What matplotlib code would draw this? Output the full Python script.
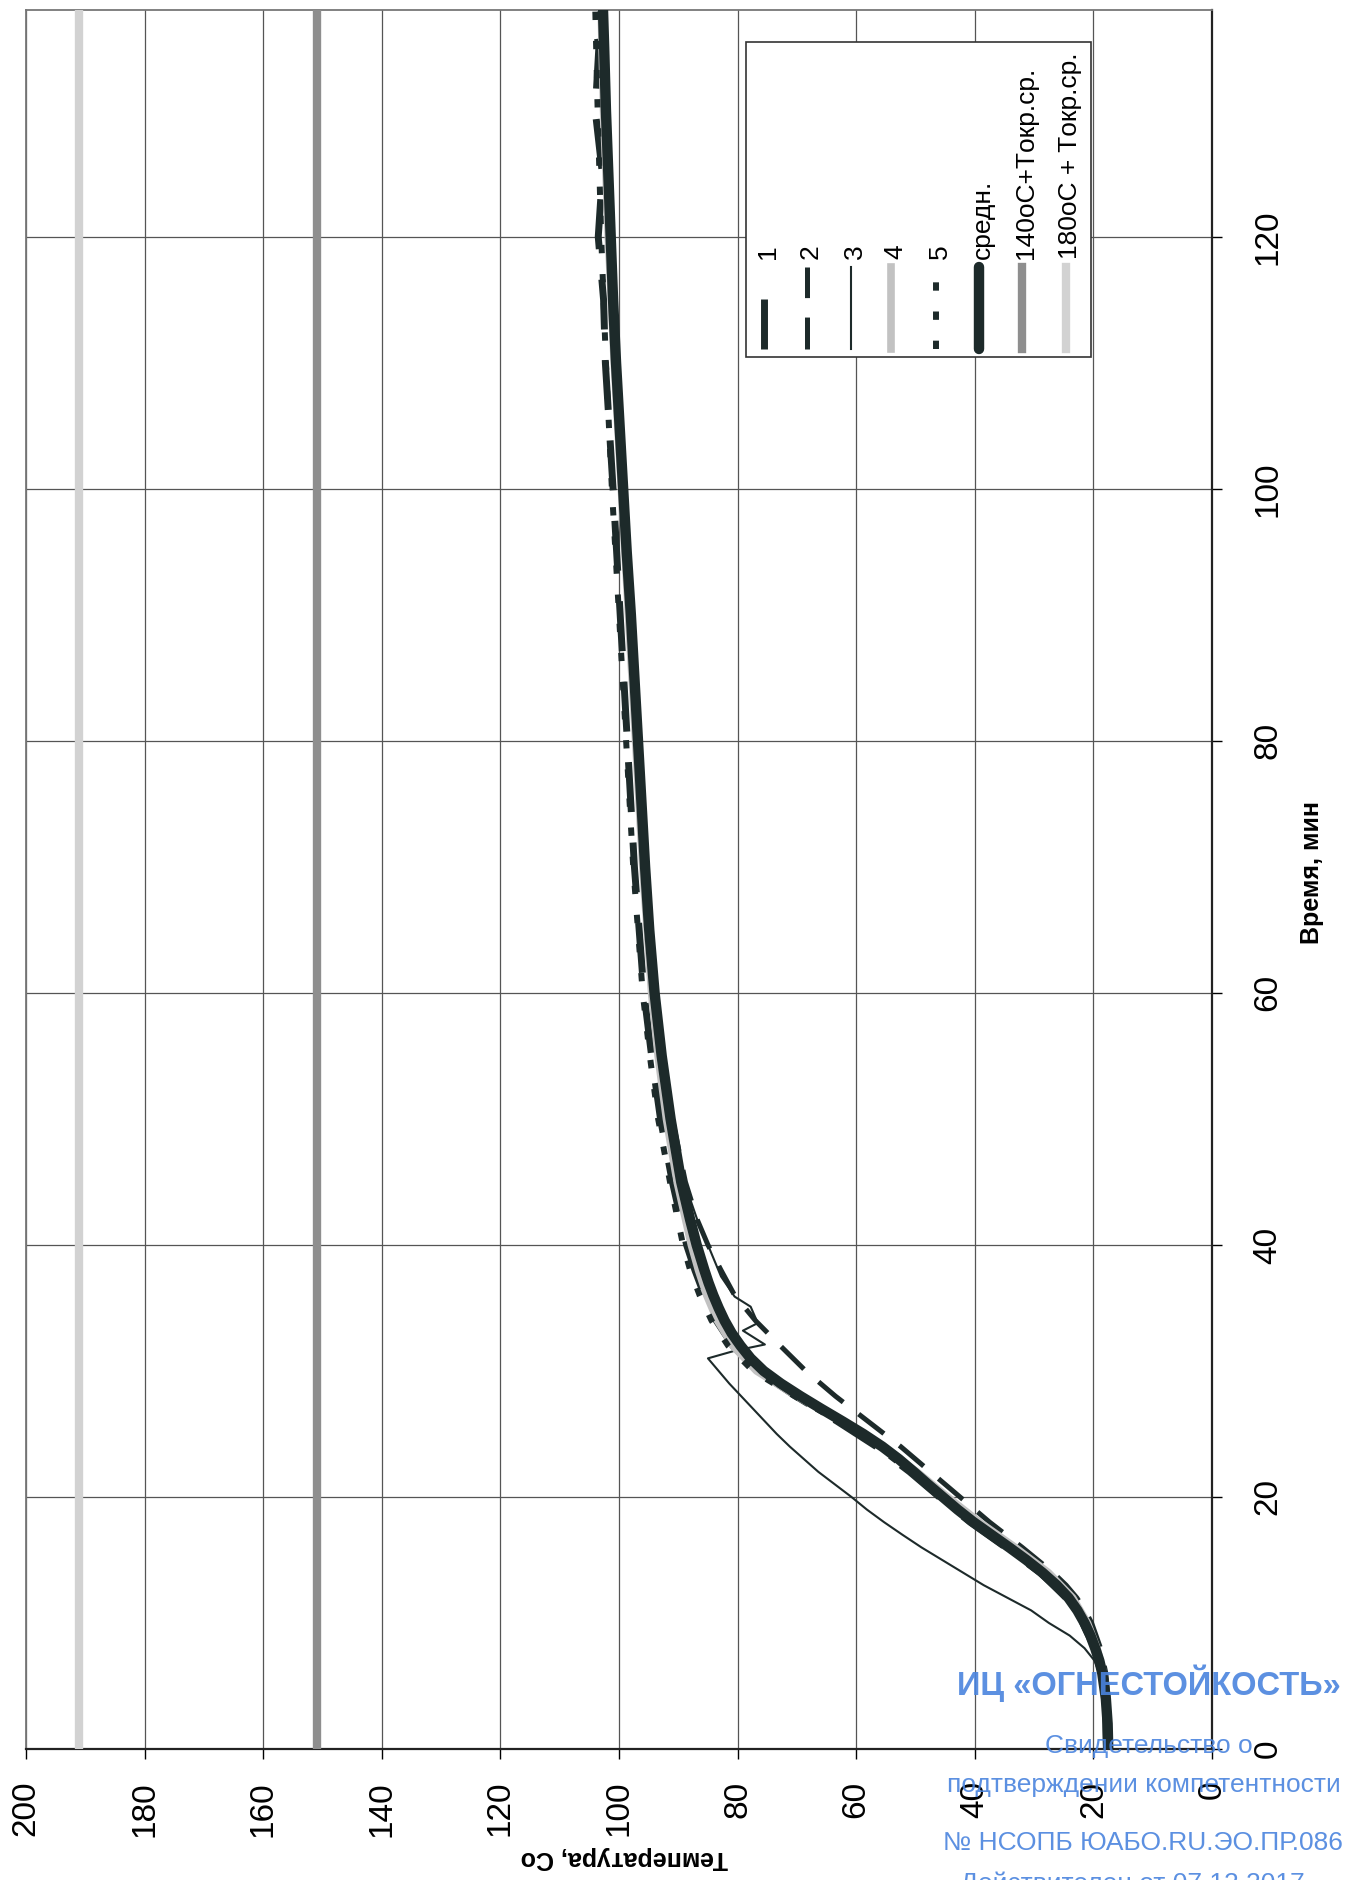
import matplotlib
matplotlib.use('Agg')
import matplotlib.pyplot as plt
from matplotlib import font_manager
from matplotlib.patches import Rectangle

plt.rcParams['font.family'] = ['Liberation Sans', 'DejaVu Sans']
plt.rcParams['lines.scale_dashes'] = False

# ---------------- data ----------------
temp_ticks = [0, 20, 40, 60, 80, 100, 120, 140, 160, 180, 200]
time_ticks = [0, 20, 40, 60, 80, 100, 120]

time_avg = [0, 2, 4, 6, 7, 8, 9, 10, 11, 12, 13, 14, 15, 16, 17, 18, 19, 20, 21, 22, 23, 24,
            25, 26, 27, 28, 29, 30, 31, 32, 33, 34, 35, 36, 37, 38, 40, 42, 45, 50, 55, 60,
            65, 70, 75, 80, 85, 90, 95, 100, 105, 110, 115, 120, 125, 130, 135, 138]
temp_avg = [17.5, 17.6, 17.9, 18.5, 19.0, 19.7, 20.5, 21.5, 22.7, 24.2, 26.2, 28.6, 31.3, 34.2,
            37.2, 40.2, 42.9, 45.4, 47.9, 50.3, 52.8, 55.6, 58.8, 62.3, 65.9, 69.4, 72.7, 75.6,
            77.8, 79.5, 81.0, 82.2, 83.2, 84.1, 84.9, 85.6, 86.9, 88.0, 89.5, 91.3, 92.8, 94.0,
            94.9, 95.6, 96.2, 96.8, 97.4, 98.0, 98.7, 99.3, 99.9, 100.5, 101.0, 101.4, 101.8,
            102.2, 102.5, 102.7]

time_1 = [0, 4, 6, 8, 10, 12, 14, 16, 18, 20, 22, 24, 26, 28, 30, 32, 34, 36, 38, 40, 45,
          50, 55, 60, 70, 80, 90, 100, 110, 115, 120, 125, 130, 135, 138]
temp_1 = [17.8, 18.0, 18.6, 19.8, 21.8, 24.6, 29.0, 34.8, 40.8, 46.0, 51.0, 56.6, 63.2, 70.2,
          76.6, 80.8, 83.6, 85.6, 87.2, 88.6, 91.0, 93.0, 94.5, 95.8, 97.4, 98.6, 99.8, 101.0,
          102.3, 102.6, 103.5, 102.8, 104.0, 103.4, 104.3]

time_2 = [0, 4, 6, 8, 10, 11, 12, 13, 14, 16, 18, 20, 22, 24, 26, 28, 30, 32, 34, 36, 38, 40,
          42, 45, 50, 55, 60, 70, 80, 90, 100, 110, 120, 130, 138]
temp_2 = [17.4, 17.5, 17.9, 18.8, 20.3, 21.4, 22.8, 24.6, 26.8, 32.0, 37.5, 42.5, 47.5, 52.5,
          58.0, 63.5, 68.5, 72.8, 77.0, 80.5, 82.8, 85.0, 86.8, 88.8, 91.0, 92.6, 93.8, 95.5,
          96.6, 97.8, 99.0, 100.3, 101.3, 102.1, 102.6]

time_3 = [0, 4, 6, 7, 8, 9, 10, 11, 12, 13, 14, 15, 16, 17, 18, 19, 20, 21, 22, 23, 24, 25,
          26, 27, 28, 29, 30, 31, 31.6, 32.1, 33.2, 33.8, 35.1, 35.9, 37.5, 40, 42, 45, 50,
          55, 60, 70, 80, 90, 100, 110, 120, 130, 138]
temp_3 = [17.8, 18.2, 19.0, 19.8, 21.5, 24.0, 27.5, 30.5, 34.5, 38.5, 42.0, 45.5, 49.0, 52.2,
          55.3, 58.2, 60.8, 63.6, 66.4, 68.8, 71.2, 73.4, 75.4, 77.4, 79.4, 81.4, 83.2, 85.0,
          80.5, 75.4, 79.1, 76.6, 77.8, 80.5, 82.8, 85.0, 86.8, 89.0, 91.2, 92.8, 94.0, 95.6,
          96.9, 98.0, 99.3, 100.5, 101.5, 102.2, 102.7]

time_4 = [0, 4, 6, 8, 10, 12, 14, 16, 18, 20, 22, 24, 26, 28, 30, 32, 34, 36, 38, 40, 45,
          50, 55, 60, 70, 80, 90, 100, 110, 120, 130, 138]
temp_4 = [17.6, 17.8, 18.3, 19.4, 21.0, 23.5, 27.6, 33.2, 39.2, 44.6, 49.8, 55.6, 62.4, 70.0,
          76.8, 80.8, 83.4, 85.2, 86.6, 87.8, 90.2, 92.0, 93.4, 94.5, 96.0, 97.2, 98.4, 99.6,
          100.8, 101.8, 102.6, 103.0]

time_5 = [0, 4, 6, 8, 10, 12, 14, 16, 18, 20, 22, 24, 26, 28, 30, 32, 34, 36, 38, 40, 45,
          50, 55, 60, 70, 80, 90, 100, 110, 120, 130, 138]
temp_5 = [17.6, 17.8, 18.4, 19.6, 21.5, 24.4, 28.8, 34.5, 40.5, 45.8, 50.8, 56.4, 63.0, 70.4,
          77.4, 81.6, 84.4, 86.4, 88.0, 89.2, 91.4, 93.4, 94.8, 96.0, 97.6, 98.8, 100.0, 101.2,
          102.2, 103.0, 103.6, 104.0]

time_limit = [0, 138]
temp_140 = [151, 151]
temp_180 = [191, 191]

legend_labels = ['1', '2', '3', '4', '5', 'средн.', '140oC+Tокр.ср.', '180oC + Tокр.ср.']

stamp_lines = ['ИЦ «ОГНЕСТОЙКОСТЬ»', 'Свидетельство о', 'подтверждении компетентности',
               '№ НСОПБ ЮАБО.RU.ЭО.ПР.086', 'Действителен от 07.12.2017']

# ---------------- styles ----------------
DARK = '#1d2a2a'
styles = [
    dict(color=DARK, lw=5.0, dashes=(36, 22)),            # 1
    dict(color=DARK, lw=3.6, dashes=(23, 14)),            # 2
    dict(color=DARK, lw=1.5),                             # 3
    dict(color='#c2c2c2', lw=5.5),                        # 4
    dict(color=DARK, lw=4.3, dashes=(6, 15)),             # 5
    dict(color=DARK, lw=7.5, solid_capstyle='round'),     # avg
    dict(color='#8e8e8e', lw=6.0),                        # 140
    dict(color='#d2d2d2', lw=6.0),                        # 180
]

W, H = 1348, 1880
fig = plt.figure(figsize=(W / 100, H / 100), dpi=100)
AX_L, AX_R, AX_T, AX_B = 26, 1212, 10, 1749
ax = fig.add_axes([AX_L / W, 1 - AX_B / H, (AX_R - AX_L) / W, (AX_B - AX_T) / H])


def axx(px):
    return (px - AX_L) / (AX_R - AX_L)


def axy(py):
    return (AX_B - py) / (AX_B - AX_T)


ax.set_xlim(200, 0)
ax.set_ylim(0, 138)

series = [(temp_1, time_1), (temp_2, time_2), (temp_3, time_3), (temp_4, time_4),
          (temp_5, time_5), (temp_avg, time_avg), (temp_140, time_limit), (temp_180, time_limit)]
order = [3, 2, 0, 4, 1, 5, 6, 7]
for i in order:
    x, y = series[i]
    ax.plot(x, y, zorder=3 + i, **styles[i])

ax.grid(True, color='#555555', lw=0.9)
ax.set_axisbelow(True)

ax.set_xticks(temp_ticks, labels=[str(v) for v in temp_ticks], rotation=90, ha='center', va='top')
ax.yaxis.tick_right()
ax.set_yticks(time_ticks, labels=[str(v) for v in time_ticks], rotation=90, ha='left', va='center')
ax.tick_params(axis='x', direction='out', length=7, width=1.0, pad=16, labelsize=24)
ax.tick_params(axis='y', direction='out', length=7, width=1.0, pad=22, labelsize=24)

for s in ['left', 'top']:
    ax.spines[s].set_color('#777777')
    ax.spines[s].set_linewidth(1.3)
for s in ['right', 'bottom']:
    ax.spines[s].set_color('#222222')
    ax.spines[s].set_linewidth(1.6)

ax.set_xlabel('Температура, Со', rotation=180, fontsize=18, fontweight='bold', ha='center', va='center')
ax.xaxis.set_label_coords(axx(624), axy(1858))
ax.yaxis.set_label_position('right')
ax.set_ylabel('Время, мин', rotation=90, fontsize=18, fontweight='bold', ha='center', va='center')
ax.yaxis.set_label_coords(axx(1312), axy(873))

# ---------------- legend (rotated, drawn by hand) ----------------
box = Rectangle((axx(746), axy(357)), axx(1091) - axx(746), axy(42) - axy(357),
                transform=ax.transAxes, facecolor='white', edgecolor='#333333', lw=1.2, zorder=20)
ax.add_patch(box)
col_x = [764, 807, 851, 891, 936, 979, 1022, 1066]
handle_top = [298, 267, 267, 267, 270, 267, 267, 267]
for i, (xc, lab) in enumerate(zip(col_x, legend_labels)):
    ax.plot([axx(xc), axx(xc)], [axy(349), axy(handle_top[i])], transform=ax.transAxes,
            zorder=21, **styles[i])
    ax.text(axx(xc + 4), axy(259), lab, rotation=90, ha='center', va='bottom', fontsize=19,
            transform=ax.transAxes, zorder=22)

# ---------------- stamp ----------------
names = {f.name for f in font_manager.fontManager.ttflist}
narrow = 'Liberation Sans Narrow' in names
stamp_fam = ['Liberation Sans Narrow', 'Liberation Sans'] if narrow else ['Liberation Sans']
BLUE = '#4a84de'
fig.text(957 / W, 1 - 1683 / H, stamp_lines[0], ha='left', va='center', color=BLUE,
         fontsize=29 if narrow else 23.5, fontweight='bold', family=stamp_fam, alpha=0.9, zorder=30)
fig.text(1045 / W, 1 - 1746 / H, stamp_lines[1], ha='left', va='center', color=BLUE,
         fontsize=19, alpha=0.9, zorder=30)
fig.text(947 / W, 1 - 1785 / H, stamp_lines[2], ha='left', va='center', color=BLUE,
         fontsize=19, alpha=0.9, zorder=30)
fig.text(943 / W, 1 - 1843 / H, stamp_lines[3], ha='left', va='center', color=BLUE,
         fontsize=19, alpha=0.9, zorder=30)
fig.text(960 / W, 1 - 1872 / H, stamp_lines[4], ha='left', va='top', color=BLUE,
         fontsize=19, alpha=0.9, zorder=30)

fig.savefig('out.png', dpi=100)
